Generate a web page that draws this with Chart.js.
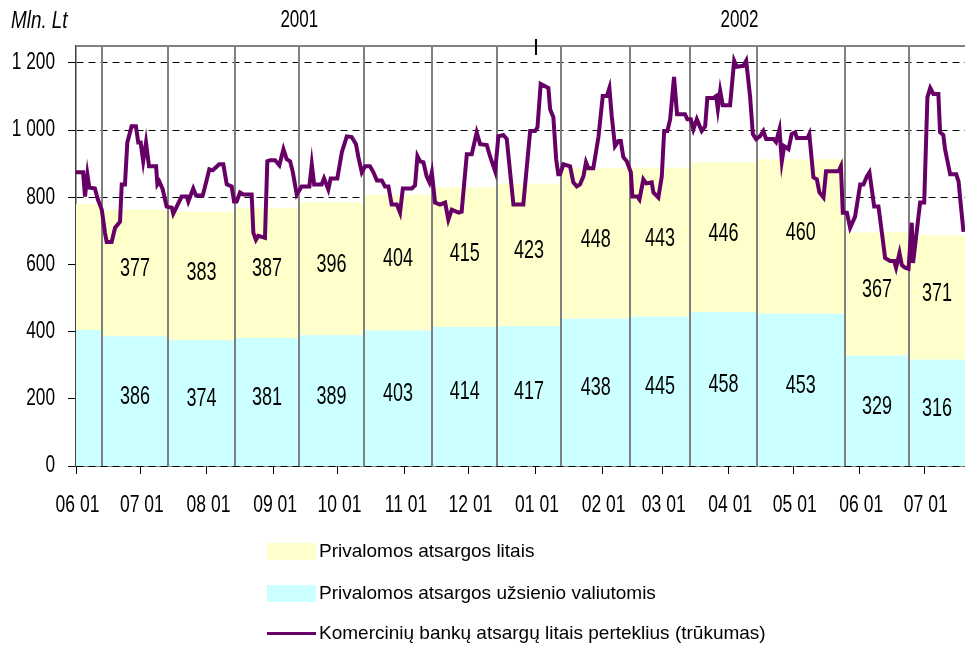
<!DOCTYPE html>
<html>
<head>
<meta charset="utf-8">
<script src="https://cdn.jsdelivr.net/npm/chart.js@4.4.1/dist/chart.umd.min.js"></script>
<style>
  html, body { margin: 0; padding: 0; background: #fff; }
  #wrap { position: relative; width: 965px; height: 646px; overflow: hidden; }
  #chart { position: absolute; left: 0; top: 0; }
  .row { position: absolute; left: 267px; height: 20px; display: flex; align-items: center;
         font: 19px "Liberation Sans", Arial, sans-serif; color: #000; white-space: nowrap; }
  .sw { width: 49px; height: 17px; margin-right: 3px; }
  .ln { width: 49px; height: 3px; margin-right: 3px; background: #660066; }
</style>
</head>
<body>
<div id="wrap">
  <canvas id="chart" width="965" height="646"></canvas>
  <div class="row" style="top:541px"><div class="sw" style="background:#ffffcc"></div>Privalomos atsargos litais</div>
  <div class="row" style="top:583px"><div class="sw" style="background:#ccffff"></div>Privalomos atsargos užsienio valiutomis</div>
  <div class="row" style="top:623px"><div class="ln"></div>Komercinių bankų atsargų litais perteklius (trūkumas)</div>
</div>
<script>
const FONT = '"Liberation Sans", Arial, sans-serif';

// x axis: days since 2001-06-01
const monthTicks = [0, 30, 61, 92, 122, 153, 183, 214, 245, 273, 304, 334, 365, 395];
const monthLabels = ["06 01", "07 01", "08 01", "09 01", "10 01", "11 01", "12 01",
  "01 01", "02 01", "03 01", "04 01", "05 01", "06 01", "07 01"];
const yTicks = [0, 200, 400, 600, 800, 1000, 1200];
const years = ["2001", "2002"];

// reserve maintenance periods (start day) and required reserves, mln Lt
const periodStart = [0, 12, 43, 74, 104, 134, 166, 196, 226, 258, 286, 317, 358, 388];
const periodEndDay = 414;
const foreignRes = [405, 386, 374, 381, 389, 403, 414, 417, 438, 445, 458, 453, 329, 316];
const litasRes = [375, 377, 383, 387, 396, 404, 415, 423, 448, 443, 446, 460, 367, 371];

// commercial banks' litas reserves
const lineDays = [0, 3.3, 4.2, 5.3, 6.2, 8.8, 10.2, 12.0, 13.5, 14.3, 16.6, 18.2, 20.5, 21.3, 22.8,
  23.9, 25.9, 27.9, 29.0, 30.1, 31.3, 32.6, 34.0, 37.3, 37.9, 38.8, 40.4, 42.2, 44.6, 45.3,
  46.9, 49.2, 51.6, 52.3, 54.6, 55.9, 59.0, 60.1, 62.1, 63.7, 65.2, 66.7, 68.6, 70.2, 72.5,
  73.6, 74.8, 76.4, 77.9, 81.8, 82.6, 83.8, 84.9, 88.0, 89.1, 90.4, 92.7, 94.7, 96.6, 98.1,
  99.7, 100.9, 102.8, 105.1, 108.7, 109.8, 110.9, 114.4, 115.5, 117.5, 118.6, 121.7, 123.8, 126.1, 128.4,
  130.4, 131.5, 133.1, 134.6, 136.9, 138.5, 140.1, 142.4, 143.9, 145.5, 147.0, 149.4, 150.9, 152.2, 156.4,
  157.9, 159.0, 160.2, 161.8, 163.3, 164.6, 165.7, 167.2, 169.5, 171.9, 173.4, 175.0, 178.1, 179.6, 182.0,
  184.3, 186.6, 188.2, 191.3, 192.8, 195.2, 196.7, 199.0, 200.6, 203.7, 208.3, 211.5, 213.8, 214.9, 216.4,
  220.0, 220.8, 222.3, 223.6, 224.6, 225.4, 227.0, 230.1, 231.6, 233.2, 234.7, 236.3, 237.5, 238.6, 240.9,
  243.3, 245.3, 247.2, 248.4, 249.5, 251.0, 252.6, 253.7, 254.9, 256.5, 258.4, 259.1, 261.4, 262.4, 264.2,
  265.5, 268.1, 268.9, 271.2, 272.8, 273.9, 275.4, 276.7, 278.5, 279.9, 283.6, 284.7, 286.3, 287.5, 289.1,
  291.4, 293.0, 294.0, 296.8, 298.1, 298.9, 300.0, 301.2, 304.6, 306.5, 307.7, 310.8, 312.1, 313.9, 315.2,
  316.7, 318.6, 320.1, 321.4, 324.8, 326.0, 327.6, 328.7, 329.8, 331.8, 333.3, 334.9, 335.7, 340.6, 341.5,
  343.4, 345.0, 346.2, 348.1, 349.3, 355.1, 356.2, 357.1, 359.0, 360.5, 362.8, 365.2, 366.7, 368.3, 369.5,
  371.7, 373.7, 375.3, 376.8, 379.1, 381.0, 381.9, 383.5, 384.6, 386.1, 387.7, 389.2, 389.8, 393.1, 395.0,
  396.5, 397.8, 399.3, 401.6, 402.4, 403.9, 404.7, 407.1, 409.9, 411.0, 411.8, 413.3];
const lineValues = [874, 874, 802, 868, 829, 826, 793, 763, 694, 667, 667, 709, 727, 838, 838,
  963, 1011, 1011, 963, 963, 907, 963, 892, 892, 838, 847, 823, 772, 769, 751,
  772, 802, 802, 787, 826, 805, 805, 832, 883, 880, 889, 898, 898, 838, 832,
  787, 787, 814, 808, 808, 694, 673, 685, 679, 907, 910, 910, 895, 943, 913,
  907, 877, 808, 832, 832, 898, 838, 838, 856, 823, 856, 856, 934, 981, 979,
  958, 919, 874, 892, 892, 874, 850, 850, 832, 832, 778, 778, 754, 826, 826,
  835, 922, 907, 904, 862, 844, 874, 784, 778, 784, 733, 763, 754, 757, 928,
  928, 993, 958, 955, 922, 877, 981, 985, 973, 778, 778, 997, 997, 1008, 1137,
  1125, 1062, 1038, 913, 868, 868, 898, 892, 844, 832, 838, 862, 904, 886, 886,
  979, 1101, 1101, 1125, 1041, 952, 967, 967, 919, 907, 874, 802, 802, 793, 853,
  841, 844, 814, 799, 862, 997, 997, 1032, 1158, 1047, 1047, 1032, 1032, 1002, 1032,
  997, 1011, 1095, 1095, 1101, 1062, 1116, 1074, 1074, 1206, 1188, 1191, 1206, 1101, 988,
  973, 982, 997, 973, 973, 964, 1002, 907, 952, 943, 988, 993, 976, 976, 988,
  859, 853, 814, 799, 877, 877, 892, 754, 754, 709, 742, 838, 838, 862, 874,
  772, 772, 694, 619, 610, 610, 590, 634, 598, 590, 587, 724, 604, 784, 784,
  1098, 1125, 1107, 1107, 993, 985, 943, 868, 868, 847, 793, 697];

function stepPoints(vals) {
  const pts = periodStart.map((d, i) => ({ x: d, y: vals[i] }));
  pts.push({ x: periodEndDay, y: vals[vals.length - 1] });
  return pts;
}
const totalRes = foreignRes.map((v, i) => v + litasRes[i]);

// the original uses a narrow face; squeeze Liberation Sans horizontally
function narrowText(ctx, txt, x, y, size, sx, align, italic) {
  ctx.save();
  ctx.font = (italic ? "italic " : "") + size + "px " + FONT;
  ctx.fillStyle = "#000";
  ctx.textAlign = align;
  ctx.textBaseline = "middle";
  ctx.translate(x, y);
  ctx.scale(sx, 1);
  ctx.fillText(txt, 0, 0);
  ctx.restore();
}

function fmtThousands(v) {
  return v >= 1000 ? Math.floor(v / 1000) + " " + String(v % 1000).padStart(3, "0") : String(v);
}

const extras = {
  id: "extras",
  beforeDatasetDraw(chart, args) {
    if (args.index !== 0) return;
    const { ctx, chartArea: a, scales: { x, y } } = chart;
    ctx.save();
    // period separators
    ctx.strokeStyle = "#808080";
    ctx.lineWidth = 2;
    periodStart.slice(1).forEach(d => {
      const px = Math.round(x.getPixelForValue(d));
      ctx.beginPath();
      ctx.moveTo(px, a.top);
      ctx.lineTo(px, a.bottom);
      ctx.stroke();
    });
    ctx.beginPath();
    ctx.moveTo(a.left, a.top);
    ctx.lineTo(a.right, a.top);
    ctx.stroke();
    ctx.restore();
    // values inside the bands
    for (let i = 1; i < periodStart.length; i++) {
      const end = i + 1 < periodStart.length ? periodStart[i + 1] : periodEndDay;
      const cx = x.getPixelForValue((periodStart[i] + end) / 2);
      narrowText(ctx, String(foreignRes[i]), cx, y.getPixelForValue(foreignRes[i] / 2 + 12), 25, 0.72, "center");
      narrowText(ctx, String(litasRes[i]), cx, y.getPixelForValue(foreignRes[i] + litasRes[i] / 2 + 10), 25, 0.72, "center");
    }
  },
  afterDraw(chart) {
    const { ctx, chartArea: a, scales: { x, y } } = chart;
    // axis labels
    monthTicks.forEach((d, i) => narrowText(ctx, monthLabels[i], x.getPixelForValue(d) + 1.5, 505, 24, 0.73, "center"));
    yTicks.forEach(v => narrowText(ctx, fmtThousands(v), 55, y.getPixelForValue(v), 23, 0.75, "right"));
    narrowText(ctx, "Mln. Lt", 11, 22, 23, 0.82, "left", true);
    narrowText(ctx, years[0], x.getPixelForValue(104), 21, 23, 0.74, "center");
    narrowText(ctx, years[1], x.getPixelForValue(309), 21, 23, 0.74, "center");
    // year divider tick
    const jx = Math.round(x.getPixelForValue(214));
    ctx.save();
    ctx.strokeStyle = "#000";
    ctx.lineWidth = 2;
    ctx.beginPath();
    ctx.moveTo(jx, a.top - 7);
    ctx.lineTo(jx, a.top + 9);
    ctx.stroke();
    ctx.restore();
  }
};

const chart = new Chart(document.getElementById("chart"), {
  type: "line",
  data: {
    datasets: [
      {
        label: "Komercinių bankų atsargų litais perteklius (trūkumas)",
        data: lineDays.map((d, i) => ({ x: d, y: lineValues[i] })),
        borderColor: "#660066",
        borderWidth: 4,
        pointRadius: 0,
        fill: false,
        tension: 0
      },
      {
        label: "Privalomos atsargos užsienio valiutomis",
        data: stepPoints(foreignRes),
        stepped: true,
        borderWidth: 0,
        borderColor: "rgba(0,0,0,0)",
        backgroundColor: "#ccffff",
        pointRadius: 0,
        fill: "origin"
      },
      {
        label: "Privalomos atsargos litais",
        data: stepPoints(totalRes),
        stepped: true,
        borderWidth: 0,
        borderColor: "rgba(0,0,0,0)",
        backgroundColor: "#ffffcc",
        pointRadius: 0,
        fill: "-1"
      }
    ]
  },
  options: {
    responsive: false,
    animation: false,
    devicePixelRatio: 1,
    layout: { padding: { top: 46, right: 0, left: 0, bottom: 130 } },
    plugins: { legend: { display: false }, tooltip: { enabled: false } },
    scales: {
      x: {
        type: "linear",
        min: 0,
        max: periodEndDay,
        afterBuildTicks: s => { s.ticks = monthTicks.map(v => ({ value: v })); },
        afterFit: s => { s.height = 50; },
        ticks: { display: false },
        grid: { drawOnChartArea: false, drawTicks: true, tickLength: 8, tickColor: "#000", tickWidth: 1 },
        border: { color: "#000", width: 1.5 }
      },
      y: {
        min: 0,
        max: 1250,
        afterBuildTicks: s => { s.ticks = yTicks.map(v => ({ value: v })); },
        afterFit: s => { s.width = 76; },
        ticks: { display: false },
        grid: { color: "#000", lineWidth: 1, tickLength: 8, tickColor: "#000", tickWidth: 1 },
        border: { color: "#404040", width: 1.5, dash: [7, 5] }
      }
    }
  },
  plugins: [extras]
});
</script>
</body>
</html>
